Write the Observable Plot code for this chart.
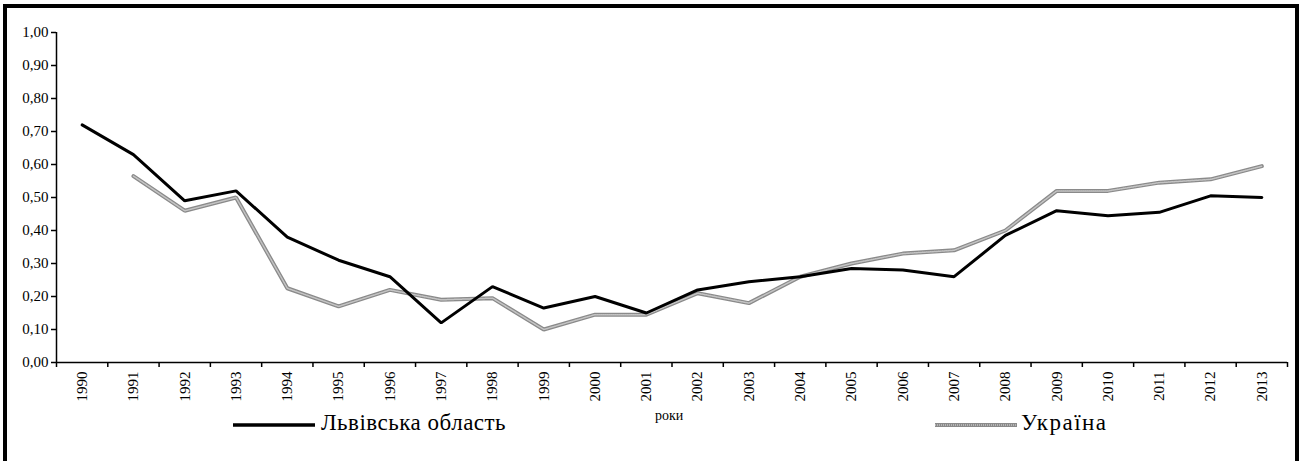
<!DOCTYPE html>
<html>
<head>
<meta charset="utf-8">
<script src="https://cdn.jsdelivr.net/npm/d3@7"></script>
<script src="https://cdn.jsdelivr.net/npm/@observablehq/plot@0.6"></script>
<style>
  html, body { margin: 0; padding: 0; background: #fff; overflow: hidden; }
  #wrap { position: relative; width: 1302px; height: 461px; overflow: hidden; font-family: "Liberation Serif", "Times New Roman", serif; }
  #frame { position: absolute; left: 3px; top: 4px; width: 1288px; height: 520px; border: 4px solid #000; box-sizing: content-box; }
  #chart { position: absolute; left: 0; top: 0; }
  #chart svg text { fill: #000; }
  .leg { position: absolute; font-size: 23px; color: #000; line-height: 1; white-space: nowrap; }
  .axlab { position: absolute; font-size: 14px; color: #000; line-height: 1; }
</style>
</head>
<body>
<div id="wrap">
  <div id="frame"></div>
  <div id="chart"></div>
  <div class="axlab" style="left:655px; top:409px;">роки</div>
  <div class="leg" style="left:233px; top:411px; letter-spacing:0.5px;">
    <svg width="82" height="10" style="vertical-align:middle; margin-right:6px;"><line x1="0" y1="5" x2="82" y2="5" stroke="#000" stroke-width="3.5"/></svg>Львівська область
  </div>
  <div class="leg" style="left:935px; top:411px; letter-spacing:1.5px;">
    <svg width="82" height="10" style="vertical-align:middle; margin-right:4px;"><line x1="0" y1="5" x2="82" y2="5" stroke="#8a8a8a" stroke-width="4"/><line x1="0" y1="5" x2="82" y2="5" stroke="#c4c4c4" stroke-width="1.5" stroke-dasharray="1,1"/></svg>Україна
  </div>
</div>
<script>
const years = [1990,1991,1992,1993,1994,1995,1996,1997,1998,1999,2000,2001,2002,2003,2004,2005,2006,2007,2008,2009,2010,2011,2012,2013];
const lviv = [0.72,0.63,0.49,0.52,0.38,0.31,0.26,0.12,0.23,0.165,0.20,0.15,0.22,0.245,0.26,0.285,0.28,0.26,0.385,0.46,0.445,0.455,0.505,0.50];
const ukraine = [null,0.565,0.46,0.50,0.225,0.17,0.22,0.19,0.195,0.10,0.145,0.145,0.21,0.18,0.26,0.30,0.33,0.34,0.40,0.52,0.52,0.545,0.555,0.595];
const yTicks = [0,0.1,0.2,0.3,0.4,0.5,0.6,0.7,0.8,0.9,1.0];

const data = years.map((y, i) => ({year: y, lviv: lviv[i], ukr: ukraine[i]}));
const boundaries = years.map(y => y - 0.5).concat([years[years.length - 1] + 0.5]);

const chart = Plot.plot({
  width: 1302,
  height: 461,
  marginLeft: 56,
  marginRight: 15,
  marginTop: 32,
  marginBottom: 99,
  x: {type: "linear", domain: [boundaries[0], boundaries[boundaries.length - 1]]},
  y: {domain: [0, 1]},
  style: {fontFamily: "'Liberation Serif', 'Times New Roman', serif", background: "transparent", color: "#000", overflow: "visible"},
  marks: [
    Plot.axisY({ticks: yTicks, tickSize: 5, tickPadding: 3, tickFormat: d => d.toFixed(2).replace(".", ","), label: null, fontSize: 15, strokeWidth: 1.5}),
    Plot.axisX({ticks: boundaries, tickSize: 5, tickFormat: () => "", label: null, strokeWidth: 1.5}),
    Plot.axisX({ticks: years, tickSize: 0, tickPadding: 9, tickRotate: -90, tickFormat: d => String(d), label: null, fontSize: 15}),
    Plot.ruleY([0], {stroke: "#000", strokeWidth: 1.5}),
    Plot.ruleX([boundaries[0]], {stroke: "#000", strokeWidth: 1.5}),
    Plot.line(data, {x: "year", y: "ukr", stroke: "#8a8a8a", strokeWidth: 4, strokeLinejoin: "miter"}),
    Plot.line(data, {x: "year", y: "ukr", stroke: "#c4c4c4", strokeWidth: 1.5, strokeDasharray: "1,1"}),
    Plot.line(data, {x: "year", y: "lviv", stroke: "#000", strokeWidth: 3, strokeLinejoin: "miter"})
  ]
});
document.getElementById("chart").appendChild(chart);
</script>
</body>
</html>
